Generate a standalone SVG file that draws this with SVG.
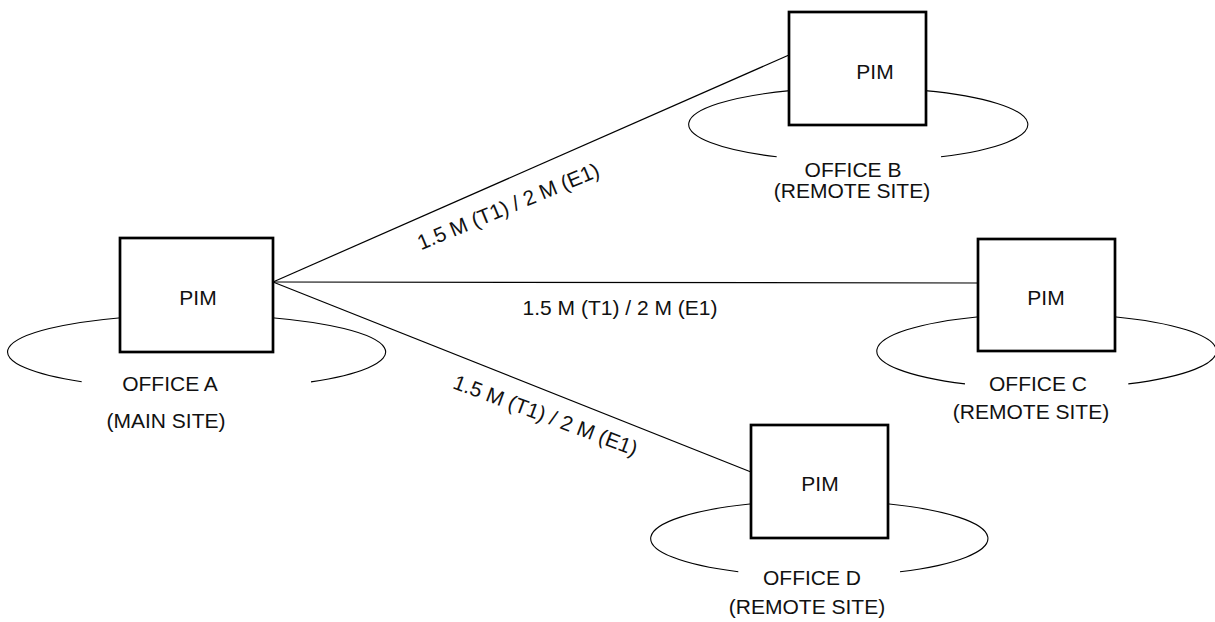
<svg xmlns="http://www.w3.org/2000/svg" width="1215" height="622" viewBox="0 0 1215 622">
  <style>
    .box { fill: #ffffff; stroke: #000000; stroke-width: 2.7; }
    .lan { fill: none; stroke: #000000; stroke-width: 1.1; }
    .link { fill: none; stroke: #000000; stroke-width: 1.2; }
    text { font-family: "Liberation Sans", Arial, sans-serif; font-size: 21px; fill: #111111; text-anchor: middle; }
  </style>
  <rect width="1215" height="622" fill="#ffffff"/>

  <!-- links from the main site to each remote site -->
  <g id="connectors">
    <line class="link" x1="273" y1="282" x2="789" y2="55"/>
    <line class="link" x1="273" y1="282" x2="978" y2="283"/>
    <line class="link" x1="273" y1="282" x2="751" y2="472"/>
    <text transform="translate(511,213) rotate(-22.5)">1.5 M (T1) / 2 M (E1)</text>
    <text x="620" y="315">1.5 M (T1) / 2 M (E1)</text>
    <text transform="translate(543,422) rotate(20.5)">1.5 M (T1) / 2 M (E1)</text>
  </g>

  <!-- Office A -->
  <g id="office-a">
    <path class="lan" d="M121,317.7 A189.5,37.5 0 0 0 81.7,381.8 M272,317.7 A189.5,37.5 0 0 1 311,381.9"/>
    <rect class="box" x="120" y="238" width="153" height="114"/>
    <text x="198" y="305">PIM</text>
    <text x="170" y="391">OFFICE A</text>
    <text x="166" y="428">(MAIN SITE)</text>
  </g>

  <!-- Office B -->
  <g id="office-b">
    <path class="lan" d="M790,90.6 A170.5,37 0 0 0 776.7,156.8 M925,90.6 A170.5,37 0 0 1 941,156.8"/>
    <rect class="box" x="789" y="12" width="137" height="113"/>
    <text x="875" y="79">PIM</text>
    <text x="853" y="177">OFFICE B</text>
    <text x="852" y="198">(REMOTE SITE)</text>
  </g>

  <!-- Office C -->
  <g id="office-c">
    <path class="lan" d="M979,316.7 A170.5,37.5 0 0 0 965,383.9 M1114,316.7 A170.5,37.5 0 0 1 1128.3,383.9"/>
    <rect class="box" x="978" y="239" width="137" height="112"/>
    <text x="1046" y="305">PIM</text>
    <text x="1038" y="391">OFFICE C</text>
    <text x="1031" y="419">(REMOTE SITE)</text>
  </g>

  <!-- Office D -->
  <g id="office-d">
    <path class="lan" d="M752,503.8 A170,38 0 0 0 738.3,571.8 M887,503.8 A170,38 0 0 1 900,571.8"/>
    <rect class="box" x="751" y="425" width="137" height="113"/>
    <text x="820" y="491">PIM</text>
    <text x="812" y="585">OFFICE D</text>
    <text x="807" y="614">(REMOTE SITE)</text>
  </g>
</svg>
